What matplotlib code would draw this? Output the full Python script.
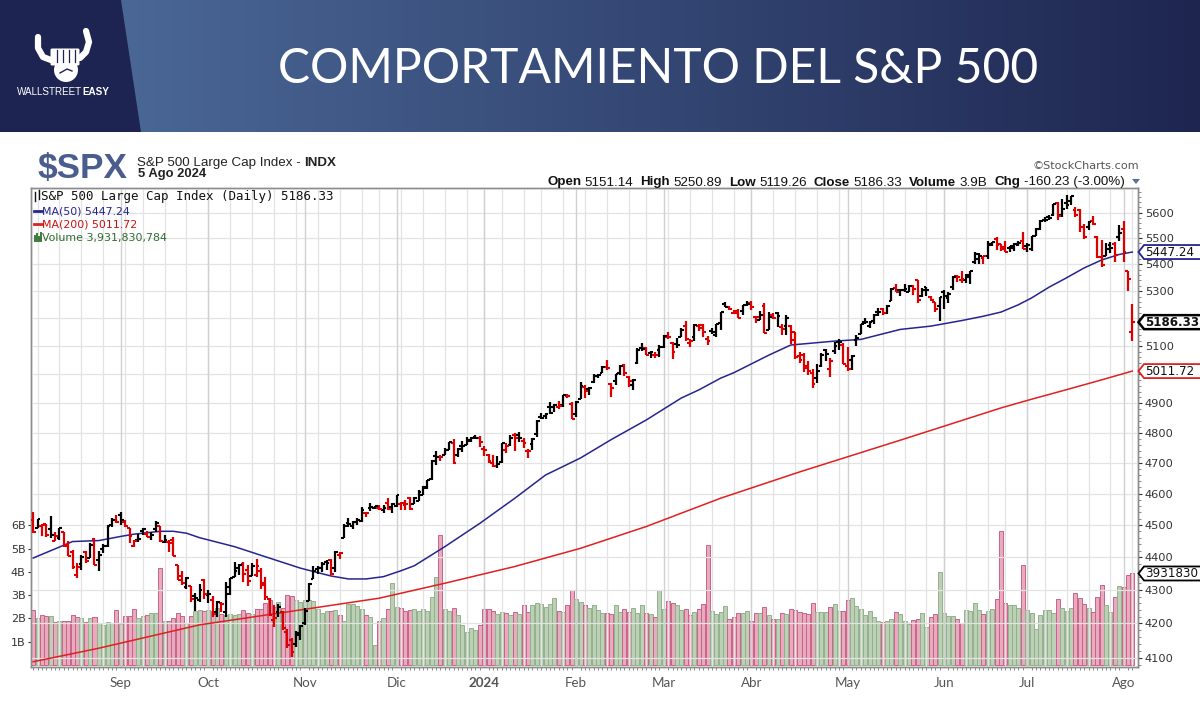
"""
S&P 500 daily bar chart (StockCharts style) under a WallStreetEasy header.
Values read off the reference picture: daily OHLC bars, volume, MA(50), MA(200).
"""

import numpy as np
import pandas as pd
import matplotlib
matplotlib.use('Agg')
import matplotlib.pyplot as plt
from matplotlib.patches import Polygon, Circle, FancyBboxPatch
from matplotlib.ticker import FixedLocator, NullFormatter

# ==========================================
# --- DATA ---
# ==========================================

FIRST_DAY = '2023-08-04'
LAST_DAY = '2024-08-05'
HOLIDAYS = ['2023-09-04', '2023-11-23', '2023-12-25', '2024-01-01', '2024-01-15',
            '2024-02-19', '2024-03-29', '2024-05-27', '2024-06-19', '2024-07-04']
MONTH_LABELS = ['Sep', 'Oct', 'Nov', 'Dic', '2024', 'Feb', 'Mar', 'Abr', 'May', 'Jun', 'Jul', 'Ago']

PREV_CLOSE = 4501.9   # close of the day before the first bar

OPENS = [
    4514, 4491, 4498, 4502, 4488, 4450, 4459, 4478, 4433, 4417, 4344, 4380, 4416, 4397, 4455, 4390, 4426, 4433, 4500, 4517,
    4531, 4510, 4491, 4434, 4452, 4480, 4473, 4462, 4487, 4498, 4445, 4445, 4453, 4375, 4342, 4310, 4312, 4283, 4270, 4329,
    4284, 4270, 4234, 4260, 4235, 4289, 4339, 4367, 4380, 4360, 4343, 4345, 4358, 4321, 4274, 4210, 4235, 4233, 4175, 4152, 4139, 4171,
    4202, 4268, 4334, 4364, 4366, 4384, 4392, 4365, 4406, 4458, 4505, 4497, 4509, 4512, 4538, 4554, 4555, 4555, 4546, 4571, 4556,
    4560, 4565, 4564, 4587, 4568, 4577, 4594, 4618, 4646, 4721, 4719, 4725, 4743, 4764, 4725, 4754, 4758, 4773, 4786, 4782,
    4745, 4726, 4698, 4690, 4703, 4741, 4760, 4793, 4791, 4772, 4739, 4761, 4797, 4853, 4857, 4888, 4886, 4888, 4893, 4925, 4899,
    4862, 4916, 4957, 4950, 4974, 4996, 5005, 5027, 4967, 4976, 5004, 5032, 4990, 4964, 5039, 5094, 5093, 5075, 5068, 5085,
    5098, 5131, 5110, 5109, 5133, 5173, 5111, 5134, 5174, 5176, 5124, 5154, 5139, 5182, 5253, 5242, 5219, 5228, 5226, 5248,
    5258, 5204, 5194, 5245, 5158, 5212, 5218, 5168, 5172, 5171, 5149, 5065, 5068, 5031, 5005, 4988, 5029, 5085, 5019, 5084, 5115, 5103,
    5030, 5050, 5122, 5142, 5188, 5173, 5190, 5225, 5234, 5221, 5264, 5310, 5303, 5305, 5298, 5320, 5341, 5282, 5316, 5278, 5259, 5244,
    5297, 5276, 5314, 5357, 5343, 5341, 5354, 5410, 5441, 5424, 5431, 5477, 5499, 5478, 5459, 5461, 5461, 5473, 5488,
    5471, 5459, 5508, 5537, 5572, 5584, 5591, 5636, 5591, 5638, 5644, 5610, 5608, 5544, 5544, 5566, 5505, 5429, 5433, 5476, 5478, 5505,
    5537, 5377, 5151.14,
]
HIGHS = [
    4540, 4519, 4503, 4503, 4527, 4477, 4490, 4479, 4449, 4421, 4382, 4407, 4418, 4443, 4459, 4418, 4440, 4500, 4521, 4532,
    4541, 4514, 4491, 4452, 4473, 4490, 4482, 4479, 4511, 4498, 4467, 4452, 4461, 4376, 4357, 4338, 4313, 4292, 4317, 4334,
    4300, 4282, 4268, 4264, 4325, 4336, 4385, 4378, 4386, 4377, 4383, 4394, 4365, 4339, 4276, 4255, 4259, 4236, 4184, 4157, 4177, 4195,
    4245, 4320, 4374, 4372, 4386, 4391, 4393, 4418, 4415, 4503, 4521, 4511, 4521, 4557, 4542, 4569, 4560, 4562, 4562, 4587, 4570,
    4596, 4572, 4579, 4590, 4590, 4610, 4623, 4644, 4709, 4738, 4726, 4749, 4769, 4778, 4749, 4772, 4785, 4785, 4793, 4789,
    4755, 4729, 4727, 4721, 4764, 4766, 4791, 4799, 4802, 4782, 4745, 4784, 4842, 4868, 4866, 4903, 4898, 4907, 4929, 4931, 4906,
    4907, 4975, 4964, 4957, 5000, 5000, 5030, 5049, 4969, 5003, 5033, 5038, 4993, 4983, 5094, 5111, 5097, 5081, 5078, 5104,
    5141, 5149, 5114, 5128, 5165, 5190, 5125, 5180, 5180, 5180, 5136, 5164, 5180, 5225, 5261, 5247, 5230, 5236, 5249, 5264,
    5264, 5208, 5228, 5256, 5222, 5219, 5225, 5178, 5211, 5175, 5152, 5079, 5077, 5046, 5019, 5038, 5076, 5089, 5057, 5114, 5124, 5110,
    5096, 5069, 5140, 5181, 5200, 5191, 5215, 5239, 5238, 5250, 5311, 5325, 5305, 5325, 5324, 5323, 5342, 5312, 5316, 5282, 5260, 5280,
    5303, 5298, 5355, 5362, 5376, 5365, 5376, 5448, 5443, 5432, 5489, 5487, 5506, 5478, 5490, 5472, 5483, 5490, 5524,
    5480, 5510, 5539, 5570, 5584, 5591, 5635, 5642, 5655, 5670, 5667, 5622, 5614, 5557, 5566, 5586, 5509, 5492, 5481, 5487, 5487, 5551,
    5567, 5377, 5250.89,
]
LOWS = [
    4474, 4491, 4465, 4461, 4458, 4450, 4454, 4432, 4403, 4364, 4335, 4360, 4382, 4396, 4376, 4356, 4411, 4431, 4493, 4507,
    4501, 4493, 4443, 4430, 4448, 4468, 4461, 4453, 4478, 4447, 4443, 4416, 4402, 4329, 4316, 4302, 4265, 4238, 4264, 4274,
    4261, 4220, 4220, 4234, 4220, 4284, 4339, 4345, 4325, 4311, 4343, 4338, 4303, 4269, 4223, 4190, 4220, 4182, 4128, 4103, 4132, 4153,
    4197, 4268, 4334, 4347, 4355, 4360, 4344, 4353, 4395, 4458, 4495, 4488, 4499, 4510, 4525, 4545, 4552, 4546, 4537, 4547, 4537,
    4558, 4547, 4547, 4546, 4565, 4575, 4594, 4614, 4644, 4694, 4705, 4725, 4743, 4697, 4718, 4737, 4758, 4768, 4780, 4751,
    4723, 4700, 4687, 4682, 4700, 4731, 4756, 4740, 4768, 4748, 4715, 4741, 4786, 4845, 4845, 4865, 4870, 4881, 4888, 4917, 4845,
    4853, 4915, 4918, 4929, 4969, 4988, 5004, 5014, 4920, 4964, 4999, 4995, 4955, 4947, 5038, 5081, 5068, 5058, 5057, 5061,
    5094, 5127, 5056, 5093, 5131, 5117, 5097, 5117, 5155, 5131, 5104, 5143, 5131, 5158, 5240, 5230, 5215, 5203, 5214, 5246,
    5229, 5184, 5194, 5146, 5157, 5197, 5170, 5139, 5139, 5107, 5053, 5039, 5008, 4999, 4953, 4969, 5027, 5048, 4991, 5073, 5088, 5035,
    5013, 5015, 5101, 5142, 5178, 5166, 5180, 5209, 5211, 5217, 5263, 5296, 5284, 5298, 5297, 5287, 5257, 5278, 5281, 5262, 5222, 5191,
    5234, 5257, 5303, 5335, 5331, 5331, 5327, 5403, 5403, 5403, 5421, 5471, 5455, 5452, 5447, 5446, 5452, 5470, 5460,
    5448, 5452, 5507, 5531, 5563, 5571, 5587, 5572, 5584, 5614, 5631, 5584, 5523, 5498, 5531, 5553, 5425, 5391, 5431, 5444, 5409, 5491,
    5410, 5302, 5119.26,
]
CLOSES = [
    4478, 4518, 4499, 4468, 4469, 4464, 4490, 4437, 4404, 4370, 4369, 4400, 4388, 4436, 4376, 4406, 4433, 4497, 4514, 4508,
    4516, 4497, 4465, 4451, 4457, 4487, 4462, 4467, 4505, 4450, 4454, 4444, 4402, 4330, 4320, 4337, 4274, 4275, 4300, 4288,
    4289, 4229, 4263, 4258, 4309, 4336, 4358, 4377, 4349, 4328, 4374, 4373, 4314, 4278, 4224, 4217, 4248, 4186, 4137, 4117, 4167, 4194,
    4237, 4318, 4358, 4366, 4378, 4383, 4347, 4415, 4411, 4496, 4502, 4508, 4514, 4547, 4538, 4557, 4559, 4550, 4555, 4551, 4568,
    4595, 4569, 4567, 4549, 4586, 4604, 4622, 4644, 4707, 4720, 4719, 4741, 4768, 4698, 4747, 4755, 4775, 4781, 4783, 4770,
    4743, 4705, 4689, 4697, 4764, 4757, 4783, 4781, 4784, 4766, 4739, 4780, 4840, 4850, 4865, 4868, 4894, 4891, 4928, 4925, 4846,
    4906, 4959, 4942, 4954, 4995, 4998, 5027, 5022, 4953, 5001, 5030, 5006, 4976, 4982, 5087, 5089, 5070, 5078, 5070, 5096,
    5137, 5131, 5079, 5105, 5157, 5124, 5117, 5175, 5165, 5150, 5117, 5149, 5178, 5225, 5241, 5234, 5218, 5203, 5248, 5254,
    5243, 5205, 5211, 5147, 5204, 5202, 5209, 5161, 5200, 5123, 5061, 5051, 5022, 5011, 4967, 5011, 5070, 5072, 5048, 5100, 5116, 5036,
    5018, 5064, 5128, 5181, 5187, 5188, 5214, 5223, 5221, 5247, 5308, 5297, 5303, 5308, 5321, 5307, 5268, 5305, 5306, 5267, 5236, 5278,
    5283, 5291, 5354, 5353, 5347, 5361, 5375, 5421, 5434, 5431, 5473, 5487, 5473, 5465, 5448, 5469, 5478, 5483, 5460,
    5475, 5509, 5537, 5567, 5572, 5577, 5633, 5585, 5615, 5631, 5667, 5589, 5545, 5505, 5564, 5556, 5427, 5399, 5459, 5464, 5436, 5522,
    5446, 5346.56, 5186.33,
]
# volume, billions of shares
VOLUMES_B = [
    2.36, 2.0, 2.15, 2.1, 2.1, 1.85, 1.9, 1.9, 1.9, 2.15, 2.05, 2.0, 1.85, 2.0, 2.05, 1.8, 1.7, 1.85, 1.8, 2.35,
    1.75, 2.1, 2.1, 2.4, 2.0, 2.1, 2.15, 2.25, 2.25, 4.15, 1.9, 1.9, 2.0, 2.25, 2.1, 1.8, 2.1, 2.3, 2.35, 2.3,
    2.35, 2.3, 2.45, 2.2, 2.15, 2.2, 2.15, 2.2, 2.35, 2.25, 2.2, 2.4, 2.4, 2.65, 2.8, 2.5, 2.7, 2.45, 3.0, 2.95, 2.8, 2.7,
    2.8, 2.8, 2.75, 2.4, 2.25, 2.3, 2.3, 2.35, 2.15, 1.9, 2.6, 2.6, 2.55, 2.4, 2.15, 2.05, 0.86, 1.9, 2.0, 2.4, 3.5,
    2.5, 2.45, 2.3, 2.35, 2.4, 2.3, 2.4, 2.3, 2.9, 3.8, 5.6, 2.39, 2.33, 2.43, 2.15, 1.72, 1.43, 1.57, 1.50, 1.72,
    2.39, 2.39, 2.33, 2.19, 2.26, 2.22, 2.15, 2.29, 2.19, 2.58, 2.29, 2.58, 2.68, 2.62, 2.47, 2.62, 2.86, 2.33, 2.29, 2.58, 3.24,
    2.82, 2.72, 2.58, 2.43, 2.58, 2.36, 2.25, 2.22, 2.19, 2.58, 2.29, 2.39, 2.29, 2.43, 2.25, 2.58, 2.25, 2.19, 2.05, 3.24,
    2.39, 2.76, 2.68, 2.58, 2.36, 2.39, 2.15, 2.29, 2.39, 2.62, 5.15, 2.33, 2.19, 2.29, 2.53, 1.96, 2.05, 2.25, 2.25, 2.33,
    1.90, 2.25, 2.25, 2.50, 2.15, 1.96, 1.96, 2.25, 2.19, 2.39, 2.36, 2.29, 2.24, 2.17, 2.67, 2.29, 2.29, 2.29, 2.51, 2.62, 2.32, 2.32,
    2.79, 2.86, 2.53, 2.39, 2.15, 2.32, 2.07, 1.9, 1.83, 1.9, 1.97, 2.29, 2.19, 1.9, 1.76, 1.93, 1.96, 2.24, 1.64, 2.04, 2.19, 3.99,
    2.25, 2.10, 2.10, 1.97, 1.79, 2.36, 2.32, 2.65, 2.36, 2.19, 2.32, 2.39, 2.83, 5.76, 2.65, 2.58, 2.58, 2.43, 4.29,
    2.36, 2.24, 1.53, 2.15, 2.36, 2.36, 2.24, 2.83, 2.43, 2.33, 2.43, 3.07, 2.86, 2.62, 2.43, 2.29, 2.90, 3.43, 2.58, 2.29, 2.90, 3.39,
    3.33, 3.86, 3.93,
]
LAST_VOLUME = 3931830784

# moving averages (trading-day number, value)
MA50_DAYS = [0, 9, 15, 20, 23, 29, 32, 35, 38, 46, 53, 61, 68, 72, 76, 80, 84, 87, 94, 102, 110, 117,
             125, 132, 140, 148, 152, 157, 160, 168, 173, 183, 189, 198, 205, 212, 217, 221, 225, 228,
             232, 236, 240, 244, 248, 251]
MA50_VALUES = [4397, 4448, 4451, 4464, 4471, 4480, 4480, 4474, 4460, 4432, 4401, 4366, 4342, 4333, 4333,
               4340, 4358, 4373, 4432, 4505, 4585, 4660, 4716, 4777, 4843, 4918, 4946, 4987, 5006, 5068,
               5104, 5118, 5124, 5160, 5172, 5192, 5208, 5223, 5250, 5275, 5315, 5350, 5387, 5417, 5438,
               5447.24]
MA200_DAYS = [0, 15, 38, 61, 79, 94, 110, 125, 140, 157, 175, 198, 221, 228, 236, 244, 251]
MA200_VALUES = [4089, 4128, 4196, 4240, 4275, 4320, 4371, 4427, 4495, 4585, 4670, 4775, 4884, 4914, 4947,
                4981, 5011.72]

PRICE_TICKS = list(range(4100, 5700, 100))
VOLUME_TICKS = [1, 2, 3, 4, 5, 6]

# ==========================================
# --- STYLE / LAYOUT ---
# ==========================================

W, H, DPI = 1200, 708, 100
PLOT_BOX = (31, 188, 1138, 667)          # left, top, right, bottom (pixels)
PRICE_LIM = (4074, 5697)
VOLUME_LIM = (-0.09, 20.5)

UP_COLOR = '#000000'
DOWN_COLOR = '#dd0000'
MA50_COLOR = '#25258f'
MA200_COLOR = '#e02020'
VOL_UP_FACE, VOL_UP_EDGE = '#bcd0b6', '#93b08d'
VOL_DOWN_FACE, VOL_DOWN_EDGE = '#e8aabd', '#c9628a'
GRID_LIGHT = '#e3e3e3'
GRID_MONTH = '#d0d0d0'
HEADER_NAVY = '#1d2452'
SPX_BLUE = '#4a5e8e'

SANS = ['Liberation Sans', 'DejaVu Sans']
THIN = ['Lato', 'Open Sans', 'DejaVu Sans']


def text_width(ax, renderer, s, **kw):
    t = ax.text(0, 0, s, **kw)
    w = t.get_window_extent(renderer=renderer).width
    t.remove()
    return w


def fit_size(ax, renderer, s, target, **kw):
    return 20 * target / text_width(ax, renderer, s, fontsize=20, **kw)


def draw_runs(ax, renderer, x, y, runs, size):
    """Place text pieces one after another: (text, weight, family, color, gap)."""
    for s, weight, family, color, gap in runs:
        t = ax.text(x, y, s, fontsize=size, fontweight=weight, family=family,
                    color=color, ha='left', va='baseline')
        x += t.get_window_extent(renderer=renderer).width + gap
    return x


def draw_header(bg, fg, renderer):
    # gradient band
    c0 = np.array([74, 103, 150]) / 255
    c1 = np.array([30, 38, 80]) / 255
    t = np.linspace(0, 1, 400)[:, None]
    grad = (c0 * (1 - t) + c1 * t)[None, :, :]
    bg.imshow(grad, extent=[120, W, 132, 0], aspect='auto', zorder=0)
    bg.add_patch(Polygon([(0, 0), (121, 0), (141, 132), (0, 132)], closed=True,
                         fc=HEADER_NAVY, ec='none', zorder=1))

    # logo: horns + fist
    bg.plot([51, 43, 38, 38], [60, 57, 48, 37], color='white', lw=4.5,
            solid_capstyle='round', zorder=2)
    bg.plot([80, 86, 89, 86], [58, 52, 42, 31], color='white', lw=4.5,
            solid_capstyle='round', zorder=2)
    bg.add_patch(FancyBboxPatch((52, 50), 26, 14, boxstyle='round,pad=1.5',
                                fc='white', ec='none', zorder=2))
    bg.add_patch(Circle((66, 70), 12, fc='white', ec='none', zorder=2))
    for xf in (57, 63, 69, 75):
        bg.plot([xf, xf], [50, 62], color=HEADER_NAVY, lw=0.9, zorder=3)
    bg.plot([60, 67, 72], [73, 69, 71], color=HEADER_NAVY, lw=1.0, zorder=3)
    draw_runs(bg, renderer, 17, 95, [('WALLSTREET', 'normal', SANS, 'white', 0),
                                     ('EASY', 'bold', SANS, 'white', 0)], 7.1)

    title = 'COMPORTAMIENTO DEL S&P 500'
    size = fit_size(fg, renderer, title, 759, family=THIN, fontweight='normal')
    bg.text(278, 83, title, fontsize=size, family=THIN, fontweight='normal',
            color='white', ha='left', va='baseline', zorder=3)


def draw_chart_titles(fg, renderer, opens, highs, lows, closes, volumes):
    size = fit_size(fg, renderer, r'\$SPX', 90, family=SANS, fontweight='bold')
    fg.text(38, 178, r'\$SPX', fontsize=size, family=SANS, fontweight='bold',
            color=SPX_BLUE, ha='left', va='baseline')
    draw_runs(fg, renderer, 137, 166, [('S&P 500 Large Cap Index -', 'normal', SANS, '#222222', 3.5),
                                       ('INDX', 'bold', SANS, '#222222', 0)], 9.6)
    fg.text(138, 177.5, '5 Ago 2024', fontsize=9.4, family=SANS, fontweight='bold',
            color='#222222', ha='left', va='baseline')

    size = fit_size(fg, renderer, '©StockCharts.com', 107, family=['DejaVu Sans'])
    fg.text(1139, 169, '©StockCharts.com', fontsize=size, family=['DejaVu Sans'],
            color='#555555', ha='right', va='baseline')

    chg = closes[-1] - closes[-2]
    pct = 100 * chg / closes[-2]
    b, n = 'bold', 'normal'
    runs = [('Open', b, SANS, '#111', 3.5), (f'{opens[-1]:.2f}', n, SANS, '#111', 7),
            ('High', b, SANS, '#111', 3.5), (f'{highs[-1]:.2f}', n, SANS, '#111', 7),
            ('Low', b, SANS, '#111', 3.5), (f'{lows[-1]:.2f}', n, SANS, '#111', 7),
            ('Close', b, SANS, '#111', 3.5), (f'{closes[-1]:.2f}', n, SANS, '#111', 7),
            ('Volume', b, SANS, '#111', 3.5), (f'{volumes[-1]:.1f}B', n, SANS, '#111', 7),
            ('Chg', b, SANS, '#111', 3.5), (f'{chg:.2f} ({pct:.2f}%)', n, SANS, '#111', 0)]
    draw_runs(fg, renderer, 547, 185.5, runs, 9.65)
    fg.add_patch(Polygon([(1132, 179), (1140, 179), (1136, 184)], closed=True,
                         fc='#5b6f9c', ec='none'))


def draw_legend(fg, renderer, closes):
    # small OHLC icon
    for xi, y0, y1 in ((35, 192, 201), (39, 190, 199)):
        fg.plot([xi, xi], [y0, y1], color='#111', lw=1.0)
    fg.text(41, 200, f'S&P 500 Large Cap Index (Daily) {closes[-1]:.2f}',
            fontsize=9.0, family=['DejaVu Sans Mono'], color='#111', va='baseline')
    fg.plot([34, 42], [210.5, 210.5], color=MA50_COLOR, lw=2)
    fg.text(42, 214.5, f'MA(50) {MA50_VALUES[-1]:.2f}', fontsize=7.9,
            family=['DejaVu Sans'], color=MA50_COLOR, va='baseline')
    fg.plot([34, 42], [223.5, 223.5], color=MA200_COLOR, lw=2)
    fg.text(42, 227.5, f'MA(200) {MA200_VALUES[-1]:.2f}', fontsize=7.9,
            family=['DejaVu Sans'], color='#cc1111', va='baseline')
    for xi, h in ((34.5, 5), (36.5, 7), (38.5, 4), (40.5, 8)):
        fg.plot([xi, xi], [241, 241 - h], color='#3c7a3c', lw=1.4)
    fg.text(42, 241, f'Volume {LAST_VOLUME:,}', fontsize=7.9,
            family=['DejaVu Sans'], color='#2f6b2f', va='baseline')


def value_tag(fg, y, text, edge, bold=False, lw=1.3):
    h = 7
    fg.add_patch(Polygon([(1138.5, y), (1144, y - h), (1215, y - h), (1215, y + h), (1144, y + h)],
                         closed=True, fc='white', ec=edge, lw=lw, clip_on=False, zorder=5))
    fg.text(1145, y + 0.5, text, fontsize=8.6, family=['DejaVu Sans'],
            fontweight='bold' if bold else 'normal', color='#111', ha='left', va='center', zorder=6)


def main():
    opens = np.array(OPENS, dtype=float)
    highs = np.array(HIGHS, dtype=float)
    lows = np.array(LOWS, dtype=float)
    closes = np.array(CLOSES, dtype=float)
    volumes = np.array(VOLUMES_B, dtype=float)

    dates = pd.bdate_range(FIRST_DAY, LAST_DAY)
    dates = dates[~dates.isin(pd.to_datetime(HOLIDAYS))]
    assert len(dates) == len(closes) == len(opens) == len(highs) == len(lows) == len(volumes)
    days = np.arange(len(dates))

    month_start = [i for i in range(1, len(dates)) if dates[i].month != dates[i - 1].month]
    week_start = [i for i in range(1, len(dates)) if dates[i].weekday() < dates[i - 1].weekday()]

    prev = np.r_[PREV_CLOSE, closes[:-1]]
    up = closes > prev
    bar_colors = np.where(up, UP_COLOR, DOWN_COLOR)

    fig = plt.figure(figsize=(W / DPI, H / DPI), dpi=DPI)
    fig.patch.set_facecolor('white')
    renderer = fig.canvas.get_renderer()

    bg = fig.add_axes([0, 0, 1, 1], zorder=0)
    bg.set_axis_off()

    left, top, right, bottom = PLOT_BOX
    rect = [left / W, 1 - bottom / H, (right - left) / W, (bottom - top) / H]
    ax_vol = fig.add_axes(rect, zorder=2)
    ax_price = ax_vol.twinx()
    ax_price.set_zorder(3)
    ax_price.patch.set_visible(False)

    fg = fig.add_axes([0, 0, 1, 1], zorder=6)
    fg.set_axis_off()
    for a in (bg, fg):
        a.set_xlim(0, W)
        a.set_ylim(H, 0)

    draw_header(bg, fg, renderer)
    bg.set_xlim(0, W)
    bg.set_ylim(H, 0)

    # --- volume ---
    ax_vol.bar(days, volumes, width=0.92,
               color=np.where(up, VOL_UP_FACE, VOL_DOWN_FACE),
               edgecolor=np.where(up, VOL_UP_EDGE, VOL_DOWN_EDGE), linewidth=0.7, zorder=2)
    ax_vol.set_xlim(-0.5, len(days) + 0.3)
    ax_vol.set_ylim(*VOLUME_LIM)
    ax_vol.set_yticks(VOLUME_TICKS)
    ax_vol.set_yticklabels([f'{v}B' for v in VOLUME_TICKS])
    ax_vol.tick_params(axis='y', length=2, pad=2, labelsize=8, colors='#333333')
    ax_vol.set_xticks(month_start)
    ax_vol.set_xticklabels(MONTH_LABELS)
    ax_vol.xaxis.set_minor_locator(FixedLocator(days))
    ax_vol.tick_params(axis='x', which='major', length=0, pad=7.5, labelsize=9.6,
                       labelcolor='#555555')
    ax_vol.tick_params(axis='x', which='minor', length=2, width=0.6, color='#777777')
    for lab in ax_vol.get_xticklabels():
        lab.set_family(THIN)
        if lab.get_text() == '2024':
            lab.set_fontweight('bold')

    # --- price ---
    ax_price.set_yscale('log')
    ax_price.set_ylim(*PRICE_LIM)

    def price_px(v):
        return H - ax_price.transData.transform((0, v))[1]

    def vol_px(v):
        return H - ax_vol.transData.transform((0, v))[1]

    # tick labels hidden where a value tag sits on top of them
    tag_rows = [price_px(closes[-1]), price_px(MA200_VALUES[-1])]
    shown = [p for p in PRICE_TICKS if min(abs(price_px(p) - r) for r in tag_rows) > 10]
    ax_price.set_yticks(PRICE_TICKS)
    ax_price.set_yticklabels([str(p) if p in shown else '' for p in PRICE_TICKS])
    ax_price.yaxis.set_minor_locator(FixedLocator(range(4080, 5700, 20)))
    ax_price.yaxis.set_minor_formatter(NullFormatter())
    ax_price.tick_params(axis='y', which='major', length=3, pad=2, labelsize=8.2,
                         colors='#333333')
    ax_price.tick_params(axis='y', which='minor', length=2, width=0.6, color='#777777')

    for p in PRICE_TICKS:
        ax_price.axhline(p, color=GRID_LIGHT, lw=0.9, zorder=0)
    for i in week_start:
        ax_price.axvline(i, color=GRID_LIGHT, lw=0.9, zorder=0)
    for i in month_start:
        ax_price.axvline(i, color=GRID_MONTH, lw=1.0, zorder=0)

    ax_price.plot(MA200_DAYS, MA200_VALUES, color=MA200_COLOR, lw=1.1, zorder=2)
    ax_price.plot(MA50_DAYS, MA50_VALUES, color=MA50_COLOR, lw=1.1, zorder=2)

    ax_price.vlines(days, lows, highs, colors=bar_colors, lw=1.6, zorder=3)
    ax_price.hlines(opens, days - 0.65, days, colors=bar_colors, lw=1.5, zorder=3)
    ax_price.hlines(closes, days, days + 0.65, colors=bar_colors, lw=1.5, zorder=3)

    for a in (ax_vol, ax_price):
        for s in a.spines.values():
            s.set_color('#8c8c8c')
            s.set_linewidth(1.0)

    # --- texts and value tags ---
    draw_chart_titles(fg, renderer, opens, highs, lows, closes, volumes)
    draw_legend(fg, renderer, closes)

    value_tag(fg, price_px(MA50_VALUES[-1]), f'{MA50_VALUES[-1]:.2f}', MA50_COLOR)
    value_tag(fg, price_px(closes[-1]), f'{closes[-1]:.2f}', '#000000', bold=True, lw=1.8)
    value_tag(fg, price_px(MA200_VALUES[-1]), f'{MA200_VALUES[-1]:.2f}', MA200_COLOR)
    # the reference cuts this number at the picture edge
    value_tag(fg, vol_px(volumes[-1]), f'{LAST_VOLUME}'[:7], '#000000')

    fig.savefig('out.png', dpi=DPI, facecolor='white')
    plt.close(fig)


if __name__ == '__main__':
    main()
